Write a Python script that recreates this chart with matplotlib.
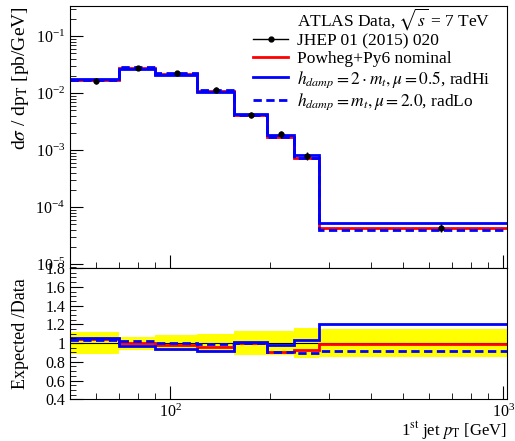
import numpy as np
import matplotlib
matplotlib.use("Agg")
import matplotlib.pyplot as plt
from matplotlib.lines import Line2D
from matplotlib.ticker import LogLocator, MultipleLocator, FuncFormatter, NullFormatter

plt.rcParams['font.family'] = ['Liberation Serif', 'DejaVu Serif']
plt.rcParams['mathtext.fontset'] = 'stix'

# leading jet pT bins [GeV]
edges = [50, 70, 90, 120, 155, 195, 235, 280, 1025]
# measured cross section [pb/GeV] and relative uncertainty
data = [0.0165, 0.0278, 0.0225, 0.0115, 0.0042, 0.0019, 0.0008, 4.35e-5]
data_unc = [0.117, 0.07, 0.085, 0.10, 0.132, 0.132, 0.157, 0.153]
# MC / data ratios
ratio_nominal = [1.045, 1.002, 0.98, 0.96, 1.005, 0.906, 0.93, 0.995]
ratio_radhi = [1.055, 0.97, 0.942, 0.917, 1.013, 0.977, 1.03, 1.202]
ratio_radlo = [1.038, 1.023, 1.006, 0.985, 1.005, 0.906, 0.895, 0.917]

edges = np.array(edges, dtype=float)
data = np.array(data)
data_unc = np.array(data_unc)
centers = 0.5 * (edges[:-1] + edges[1:])

fig = plt.figure(figsize=(5.15, 4.41), dpi=100)
ax = fig.add_axes([0.136, 0.392, 0.848, 0.594])
rax = fig.add_axes([0.136, 0.0946, 0.848, 0.2974], sharex=ax)

models = [
    (ratio_nominal, dict(color='red', ls='-'), 'Powheg+Py6 nominal'),
    (ratio_radhi, dict(color='blue', ls='-'), r'$h_{damp} = 2\cdot m_t, \mu = 0.5$, radHi'),
    (ratio_radlo, dict(color='blue', ls=(0, (3, 1.6))), r'$h_{damp} = m_t, \mu = 2.0$, radLo'),
]

# main panel
for r, style, label in models:
    ax.stairs(data * np.array(r), edges, lw=2, baseline=None, **style)
ax.errorbar(centers, data, yerr=data * data_unc, fmt='o', color='black',
            ms=3.5, lw=1, capsize=0, zorder=5)

ax.set_xscale('log')
ax.set_yscale('log')
ax.set_xlim(edges[0], edges[-1])
ax.set_ylim(8.55e-6, 0.335)
ax.set_ylabel(r'd$\sigma$ / dp$_{\rm T}$ [pb/GeV]', fontsize=14, loc='top')
ax.yaxis.set_minor_locator(LogLocator(base=10, subs=np.arange(2, 10)))
ax.yaxis.set_minor_formatter(NullFormatter())
ax.tick_params(which='both', direction='in', top=False, right=False, labelbottom=False, labelsize=11.5)
ax.tick_params(which='major', length=9.5)
ax.tick_params(which='minor', length=4.3)

handles = [
    Line2D([], [], color='none'),
    Line2D([], [], color='black', marker='o', ms=3.5, lw=1),
]
labels = [r'ATLAS Data, $\sqrt{s}$ = 7 TeV', 'JHEP 01 (2015) 020']
for r, style, label in models:
    handles.append(Line2D([], [], lw=2, **style))
    labels.append(label)
ax.legend(handles, labels, loc='upper left', bbox_to_anchor=(0.41, 1.018),
          frameon=False, fontsize=12.5, handlelength=2.0, handletextpad=0.5,
          labelspacing=0.1, borderaxespad=0.0, borderpad=0.25)

# ratio panel
band_lo = np.concatenate([1 - data_unc, [1 - data_unc[-1]]])
band_hi = np.concatenate([1 + data_unc, [1 + data_unc[-1]]])
rax.fill_between(edges, band_lo, band_hi, step='post', color='yellow', lw=0)
rax.stairs(np.ones(len(data)), edges, color='black', lw=0.8, baseline=None)
for r, style, label in models:
    rax.stairs(r, edges, lw=2, baseline=None, **style)

rax.set_ylim(0.4, 1.8)
rax.yaxis.set_major_locator(MultipleLocator(0.2))
rax.yaxis.set_minor_locator(MultipleLocator(0.05))
rax.yaxis.set_major_formatter(FuncFormatter(lambda v, p: '%g' % round(v, 2)))
rax.set_ylabel('Expected /Data', fontsize=13)
rax.tick_params(which='both', direction='in', top=False, right=False, labelsize=11.5)
rax.tick_params(which='major', length=9.5)
rax.tick_params(which='minor', length=4.3)
rax.set_xlabel(r'1$^{\rm st}$ jet $p_{\rm T}$ [GeV]', fontsize=12, loc='right')

ax.yaxis.set_label_coords(-0.09, 1.0)
rax.yaxis.set_label_coords(-0.095, 0.5)
rax.xaxis.set_label_coords(1.0, -0.16)

fig.savefig('out.png', dpi=100)
